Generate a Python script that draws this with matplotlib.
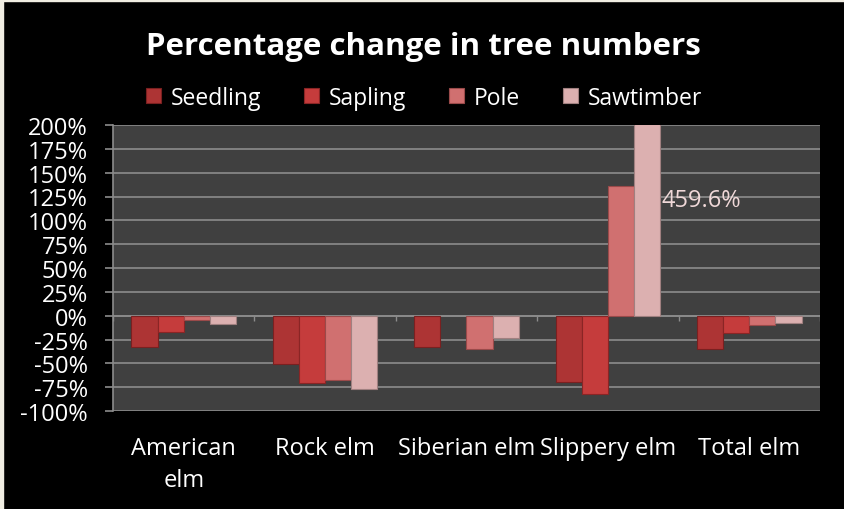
import numpy as np
import matplotlib.pyplot as plt
from matplotlib.patches import Rectangle

# Data (percent change)
species = ["American\nelm", "Rock elm", "Siberian elm", "Slippery elm", "Total elm"]
classes = ["Seedling", "Sapling", "Pole", "Sawtimber"]
seedling = [-33, -51, -33, -70, -35]
sapling = [-17, -71, np.nan, -82, -18]
pole = [-5, -67, -35, 136, -9.5]
sawtimber = [-8.5, -77, -23, 459.6, -8]
series = [seedling, sapling, pole, sawtimber]
colors = ["#ad3434", "#c53c3c", "#d07070", "#dcb0b0"]
edges = ["#7a2020", "#8a2525", "#9a4a4a", "#a08080"]

plt.rcParams['font.family'] = ['Open Sans', 'DejaVu Sans']

fig = plt.figure(figsize=(8.44, 5.10), dpi=100, facecolor="black")
# thin light frame on top and left, as in the original screenshot
fig.patches.append(Rectangle((0, 0), 3 / 844, 1, transform=fig.transFigure,
                             color="#f1eee3", zorder=0))
fig.patches.append(Rectangle((0, 1 - 2 / 510), 1, 2 / 510, transform=fig.transFigure,
                             color="#f1eee3", zorder=0))

ax = fig.add_axes([113 / 844, 1 - 412 / 510, (820 - 113) / 844, (412 - 126) / 510])
ax.set_facecolor("#404040")

x = np.arange(len(species))
w = 0.185
for i, (name, vals) in enumerate(zip(classes, series)):
    ax.bar(x + (i - 1.5) * w, vals, width=w, color=colors[i], edgecolor=edges[i],
           linewidth=0.8, label=name, zorder=3)

ax.set_ylim(-100, 200)
ax.set_xlim(-0.5, len(species) - 0.5)
ax.set_yticks(np.arange(-100, 201, 25))
ax.set_yticklabels([f"{v}%" for v in range(-100, 201, 25)])
ax.yaxis.grid(True, color="#8c8c8c", linewidth=1.2, zorder=1)
ax.set_axisbelow(True)

# zero line with category separators
ax.axhline(0, color="#8c8c8c", linewidth=1.2, zorder=2)
ax.vlines(np.arange(len(species) + 1) - 0.5, -6, 0, color="#8c8c8c", linewidth=1.0, zorder=2)

ax.set_xticks(x)
ax.set_xticklabels(species, linespacing=1.45, va="top")
ax.tick_params(axis="x", length=0, pad=18, colors="white", labelsize=17)
ax.tick_params(axis="y", length=6, width=1.2, color="#8c8c8c", colors="white",
               labelsize=17, pad=12)
for s in ["top", "right", "bottom"]:
    ax.spines[s].set_visible(False)
ax.spines["left"].set_color("#8c8c8c")
ax.spines["left"].set_linewidth(1.2)

# label for the clipped Slippery elm sawtimber bar
ax.text(x[3] + 1.5 * w + 0.1, 121, f"{sawtimber[3]}%", color="#f0d8d8",
        fontsize=17, va="center", ha="left", zorder=4)

fig.text(423 / 844, 1 - 47 / 510, "Percentage change in tree numbers", color="white",
         fontsize=22.5, fontweight="bold", ha="center", va="center")
leg = ax.legend(loc="center", bbox_to_anchor=(0.44, 1.095), ncol=4, frameon=False,
                fontsize=16.5, handlelength=0.65, handleheight=0.65, handletextpad=0.4,
                columnspacing=1.9, labelcolor="white")

fig.savefig("out.png", dpi=100, facecolor=fig.get_facecolor())
